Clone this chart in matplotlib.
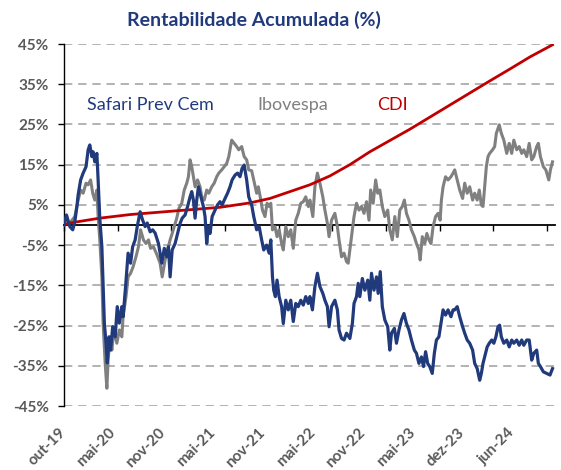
import matplotlib
matplotlib.use("Agg")
import matplotlib.pyplot as plt
import matplotlib.transforms as mtransforms

plt.rcParams['font.family'] = ['Lato', 'DejaVu Sans']

# ---------------- data (trading-day index, cumulative return %) ----------------
safari_day = [0, 2, 6, 14, 21, 26, 31, 34, 40, 46, 53, 58, 62, 67, 70, 74, 79, 82, 86, 91, 94, 97,
              101, 104, 108, 112, 117, 123, 128, 133, 139, 142, 148, 154, 160, 165, 171, 176, 183,
              189, 195, 200, 207, 213, 219, 227, 235, 241, 247, 251, 255, 260, 267, 273, 279, 284,
              291, 297, 303, 307, 311, 315, 319, 323, 329, 335, 339, 343, 347, 351, 356, 363, 369,
              375, 380, 387, 393, 399, 404, 411, 417, 423, 428, 433, 439, 444, 451, 456, 463, 469,
              475, 480, 487, 493, 497, 501, 504, 508, 512, 517, 523, 527, 533, 539, 545, 551, 557,
              563, 569, 575, 581, 587, 591, 597, 603, 609, 615, 622, 627, 633, 637, 643, 651, 657,
              661, 667, 673, 679, 687, 693, 697, 703, 707, 711, 717, 723, 730, 735, 739, 745, 751,
              755, 760, 765, 771, 778, 783, 787, 794, 799, 805, 811, 817, 823, 829, 835, 842, 847,
              853, 859, 864, 869, 874, 879, 885, 890, 895, 901, 906, 911, 917, 923, 930, 935, 939,
              945, 951, 958, 963, 969, 975, 982, 987, 993, 999, 1003, 1007, 1011, 1017, 1022, 1028,
              1033, 1038, 1043, 1047, 1051, 1057, 1064, 1070, 1076, 1081, 1088, 1094, 1100, 1105,
              1112, 1118, 1124, 1129, 1136, 1140, 1145, 1152, 1160, 1168, 1174]
safari_val = [0, 1.2, 2.5, -0.4, -1.2, 0.8, 4.6, 7.5, 11.2, 12.9, 14.5, 18.7, 19.9, 17, 18.2, 15.7,
              17.8, 11.2, 1.7, -5.4, -15.3, -24.4, -29.4, -34.3, -27.8, -31.1, -25.3, -27.8, -20.3,
              -24.4, -20.3, -22.8, -15.3, -7, -9.5, -5.4, -3.7, -0.4, 3.3, 1.2, -0.4, 0.5, -1.7,
              -1.2, -2.0, -4.6, -9.5, -5.8, -7.9, -5.4, -12.9, -6.2, -4.6, -2.1, 0.4, 1.7, 2.5, 4.6,
              7, 8.3, 6.2, 1.7, 6.2, 9.5, 7, 4.6, 2.1, -4.6, -0.4, -2.1, 2.1, 3.7, 5, 5.8, 5, 6.6,
              7.9, 9.5, 11.2, 12.4, 12.9, 12, 14.1, 14.9, 11.2, 7, 5, 2.1, -1.2, -0.4, -3.7, -6.2,
              -5, -7, -3.7, -12.9, -16.2, -17.8, -13.7, -17.8, -20.3, -24.5, -18.7, -21.1, -18.7,
              -24, -19.5, -20.3, -18.7, -19.9, -17.8, -19.5, -17.8, -21.1, -15.3, -12, -15.3, -17,
              -18.7, -20.3, -25.3, -20.3, -18.7, -21.1, -26.1, -28.2, -28.6, -26.9, -28.2, -24.5,
              -19.5, -17.8, -14.5, -17.8, -13.3, -16.2, -13.7, -18.7, -12, -16.2, -12.9, -17, -11.6,
              -20.3, -23.6, -25.3, -31.1, -26.9, -25.7, -29.4, -26.1, -23.6, -22, -24.5, -26.1,
              -28.6, -31.1, -31.9, -34.4, -32.8, -35.2, -31.5, -34.4, -35.2, -36.9, -31.9, -28.6,
              -27.8, -24.5, -21.1, -22.4, -21.1, -22.8, -21.1, -21.1, -20.3, -22.8, -25.3, -26.9,
              -28.6, -29.4, -31.1, -34.4, -35.7, -38.6, -36.9, -34.4, -32.8, -30.3, -29.4, -28.6,
              -29.4, -27.8, -25.3, -24.9, -27.8, -29.4, -28.6, -30.3, -28.6, -29.4, -28.6, -29.9,
              -28.6, -29.9, -28.6, -28.6, -33.6, -31.9, -31.1, -34.4, -35.2, -36.5, -36.9, -37.3,
              -35.7]

ibov_day = [0, 2, 14, 26, 34, 40, 46, 53, 58, 64, 69, 74, 79, 82, 86, 91, 94, 99, 103, 106, 111,
            115, 120, 127, 133, 139, 142, 149, 154, 160, 166, 173, 179, 184, 191, 197, 203, 208,
            215, 223, 231, 236, 243, 249, 255, 260, 265, 271, 276, 283, 289, 295, 299, 303, 307,
            311, 315, 321, 327, 331, 337, 343, 348, 355, 361, 367, 372, 379, 385, 391, 396, 403,
            409, 415, 420, 427, 433, 439, 444, 451, 456, 463, 467, 473, 477, 483, 488, 493, 497,
            501, 507, 512, 517, 523, 527, 533, 539, 545, 551, 557, 563, 569, 575, 581, 587, 591,
            598, 603, 609, 615, 622, 627, 633, 637, 643, 651, 657, 661, 667, 673, 679, 683, 687,
            693, 697, 703, 709, 715, 721, 727, 733, 737, 743, 749, 754, 759, 765, 771, 778, 783,
            789, 795, 801, 807, 813, 818, 823, 829, 835, 842, 847, 853, 856, 861, 867, 872, 877,
            882, 887, 893, 899, 904, 907, 911, 917, 923, 930, 935, 939, 945, 951, 958, 963, 969,
            975, 982, 987, 993, 998, 1003, 1007, 1011, 1015, 1019, 1023, 1030, 1035, 1039, 1046,
            1051, 1057, 1064, 1070, 1076, 1081, 1088, 1094, 1100, 1105, 1112, 1118, 1124, 1129,
            1136, 1140, 1145, 1152, 1158, 1165, 1169, 1174]
ibov_val = [0, 1.2, 0.5, 2.1, 6.2, 8.7, 7.9, 10.4, 10, 11.2, 7.9, 6.2, 8.7, 2.1, -3.7, -12.9,
            -24.5, -34.4, -40.6, -33.6, -27.8, -31.1, -26.1, -29.4, -26.1, -27.8, -22.8, -17.8,
            -12.9, -12, -10.4, -7.9, -5.4, -1.2, -3.7, -4.6, -3.7, -5.8, -5.4, -7.3, -9.5, -12.9,
            -8.7, -6.2, -3.7, -2.1, -0.4, 1.7, 4.1, 5.4, 8.7, 10.4, 12, 16.2, 14.5, 12, 9.5, 11.2,
            9.5, 7, 6.2, 8.7, 7.9, 9.5, 10.4, 12, 12.9, 13.7, 14.5, 15.3, 17, 21.1, 20.3, 19.5,
            18.7, 19.5, 17, 16.2, 13.7, 13.5, 11.2, 7.9, 9.5, 6.2, 3.7, 2.1, 5.4, 4.6, 5.4, -1.2,
            -0.4, -2.9, -1.2, -4.6, -6.2, -0.4, -2.9, -1.2, -5.8, 1.2, 2.9, 5.4, 5.8, 7, 4.6, 6.2,
            2.1, 9.5, 12.9, 10.4, 7, 3.7, 0.4, -2.9, 1.2, 2.9, -0.4, -3.7, -7.9, -7, -9.1, -9.5,
            -6.2, -1.2, 2.1, 5.4, 3.7, 4.6, 2.9, 5.8, 1.2, 8.7, 5.4, 11.2, 7.9, 8.7, 4.6, 2.1, 3.7,
            -1.2, -3.7, 2.1, -2.9, 3.7, 4.6, 6.2, 2.9, 1.2, -1.2, -2.9, -4.6, -6.2, -8.7, -2.9,
            -4.6, -2.1, -3.7, -4.6, -0.4, 2.1, 2.9, 1.2, 6.2, 9.5, 12, 11.2, 12, 12.9, 13.7, 11.2,
            8.7, 6.6, 10.4, 7.9, 9.5, 6.2, 7.9, 6.2, 8.7, 5, 4.6, 9.5, 14.5, 17, 17.8, 18.7, 19.5,
            22.8, 24.9, 22.8, 21.1, 17.8, 20.3, 17.8, 21.1, 18.7, 19.5, 17.8, 18.7, 17, 20.3, 16.2,
            17, 19.5, 20.3, 17, 14.5, 13.7, 11.2, 13.7, 15.7]

cdi_day = [0, 14, 86, 159, 231, 303, 375, 447, 495, 543, 591, 639, 687, 735, 783, 831, 879, 927,
           975, 1023, 1072, 1120, 1174]
cdi_val = [0, 0.5, 1.7, 2.6, 3.2, 3.8, 4.4, 5.5, 6.6, 8.3, 10, 12.2, 15, 18.2, 21, 23.8, 26.8,
           29.8, 32.8, 35.8, 38.8, 41.8, 44.8]

series_names = ["Safari Prev Cem", "Ibovespa", "CDI"]
x_tick_labels = ["out-19", "mai-20", "nov-20", "mai-21", "nov-21", "mai-22", "nov-22",
                 "mai-23", "dez-23", "jun-24"]
x_tick_days = [0, 129, 258, 387, 516, 645, 774, 903, 1032, 1161]
x_label_days = [-2, 118, 238, 358, 478, 598, 718, 838, 958, 1078]
y_ticks = [-45, -35, -25, -15, -5, 5, 15, 25, 35, 45]
title = "Rentabilidade Acumulada (%)"

# ---------------- styles ----------------
NAVY = "#203A7C"
GRAY = "#808080"
RED = "#C00000"
TXT = "#595959"

fig = plt.figure(figsize=(5.61, 4.70), dpi=100)
ax = fig.add_axes([64 / 561, 1 - 406 / 470, (555 - 64) / 561, (406 - 44) / 470])

ax.plot(ibov_day, ibov_val, color=GRAY, lw=2.2, zorder=3, solid_joinstyle='round')
ax.plot(cdi_day, cdi_val, color=RED, lw=2.0, zorder=4, solid_joinstyle='round')
ax.plot(safari_day, safari_val, color=NAVY, lw=2.3, zorder=5, solid_joinstyle='round')

ax.set_xlim(0, 1180)
ax.set_ylim(-45, 45)

# y axis
ax.set_yticks(y_ticks)
ax.set_yticklabels([f"{v}%" for v in y_ticks], fontsize=11, fontweight='bold', color=TXT)
ax.tick_params(axis='y', direction='out', length=4, width=1.0, color='black', pad=7)
for v in y_ticks:
    ax.axhline(v, color='#A6A6A6', lw=1.2, ls=(0, (5, 3.5)), zorder=1)

# spines
ax.spines['top'].set_visible(False)
ax.spines['right'].set_visible(False)
ax.spines['left'].set_color('black')
ax.spines['left'].set_linewidth(1.0)
ax.spines['bottom'].set_position(('data', 0))
ax.spines['bottom'].set_color('black')
ax.spines['bottom'].set_linewidth(1.3)
ax.spines['bottom'].set_zorder(2)

# x axis ticks on zero line, labels at bottom
ax.set_xticks(x_tick_days)
ax.tick_params(axis='x', direction='out', length=4, width=1.0, color='black', labelbottom=False)
trans = mtransforms.blended_transform_factory(ax.transData, ax.transAxes)
for d, lab in zip(x_label_days, x_tick_labels):
    ax.text(d, -0.068, lab, transform=trans, rotation=45, rotation_mode='anchor',
            ha='right', va='center', fontsize=11, fontweight='bold', color=TXT, clip_on=False)

# title
fig.text(254 / 561, 1 - 20 / 470, title, ha='center', va='center', fontsize=14,
         fontweight='bold', color=NAVY)

# legend-like labels
ax.text(87 / 561 * 561, 0, "", transform=None)
fig.text(87 / 561, 1 - 105 / 470, series_names[0], ha='left', va='center', fontsize=13, color=NAVY)
fig.text(257 / 561, 1 - 105 / 470, series_names[1], ha='left', va='center', fontsize=13, color=GRAY)
fig.text(377 / 561, 1 - 105 / 470, series_names[2], ha='left', va='center', fontsize=13, color=RED)

fig.savefig("out.png", dpi=100, facecolor='white')
